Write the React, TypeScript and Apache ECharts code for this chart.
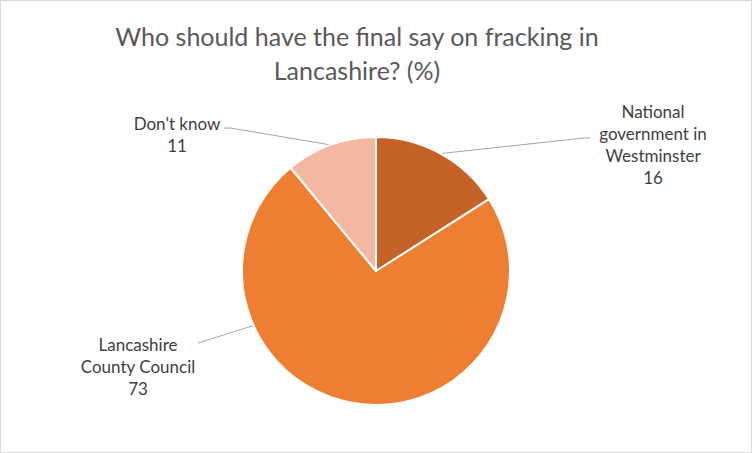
import React, { useEffect, useRef } from "react";
import * as echarts from "echarts";

const categories = ["National\ngovernment in\nWestminster", "Lancashire\nCounty Council", "Don't know"];
const values = [16, 73, 11];
const colors = ["#C46228", "#EE7F32", "#F4B7A2"];
const titleText = "Who should have the final say on fracking in\nLancashire? (%)";

// layout (px, chart coords)
const CX = 375;
const CY = 270;
const R = 134;
const labelPos: [number, number][] = [
  [652, 143],
  [137, 365],
  [176, 133],
];
const lineLabelEnd: [number, number][] = [
  [589, 137],
  [197, 342],
  [223, 127],
];
// angle (deg, clockwise from top) where the leader meets the pie; null = slice middle
const lineAngle: (number | null)[] = [null, 246, null];

export default function App() {
  const ref = useRef<HTMLDivElement>(null);
  useEffect(() => {
    document.body.style.margin = "0";
    const chart = echarts.init(ref.current!, null, { renderer: "svg" });
    const total = values.reduce((a, b) => a + b, 0);
    const mids: number[] = [];
    let acc = 0;
    values.forEach((v) => {
      mids.push(((acc + v / 2) / total) * 360);
      acc += v;
    });
    chart.setOption({
      animation: false,
      backgroundColor: "#ffffff",
      title: {
        text: titleText,
        left: 356,
        textAlign: "center",
        top: 18,
        padding: 0,
        textStyle: {
          fontFamily: "Lato",
          fontSize: 25,
          fontWeight: "normal",
          color: "#595959",
          lineHeight: 34,
          align: "center",
        },
      },
      series: [
        {
          type: "pie",
          center: [CX, CY],
          radius: R,
          startAngle: 90,
          clockwise: true,
          data: categories.map((name, i) => ({
            name,
            value: values[i],
            itemStyle: { color: colors[i] },
          })),
          itemStyle: { borderColor: "#ffffff", borderWidth: 2 },
          label: {
            show: true,
            formatter: "{b}\n{c}",
            fontFamily: "Lato",
            fontSize: 17,
            color: "#404040",
            lineHeight: 22,
            align: "center",
          },
          labelLine: {
            show: true,
            lineStyle: { color: "#A6A6A6", width: 1 },
          },
          labelLayout: (params: any) => {
            const i = params.dataIndex;
            const p = labelPos[i];
            const ang = ((lineAngle[i] ?? mids[i]) * Math.PI) / 180;
            const sx = CX + R * Math.sin(ang);
            const sy = CY - R * Math.cos(ang);
            const e = lineLabelEnd[i];
            const dir = sx > e[0] ? 1 : -1;
            const pts =
              i === 1
                ? [e, [sx, sy]]
                : [e, [e[0] + dir * 6, e[1]], [sx, sy]];
            return {
              x: p[0],
              y: p[1],
              align: "center",
              verticalAlign: "middle",
              labelLinePoints: pts,
            };
          },
          emphasis: { disabled: true },
        },
      ],
    });
    return () => chart.dispose();
  }, []);
  return (
    <div
      style={{
        position: "absolute",
        left: 0,
        top: 0,
        width: 752,
        height: 453,
        boxSizing: "border-box",
        border: "1px solid #D9D9D9",
        background: "#fff",
      }}
    >
      <div ref={ref} style={{ width: 750, height: 451 }} />
    </div>
  );
}
